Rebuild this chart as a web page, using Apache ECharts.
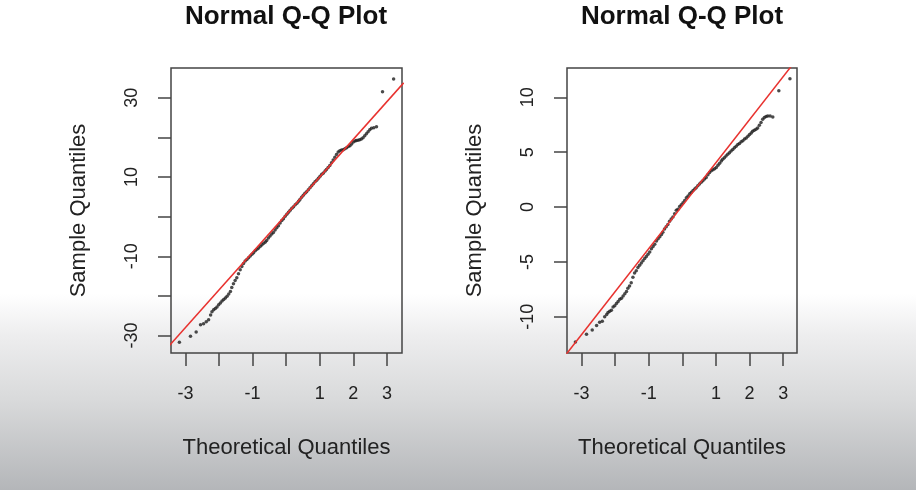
<!DOCTYPE html>
<html>
<head>
<meta charset="utf-8">
<script src="https://cdn.jsdelivr.net/npm/echarts@6/dist/echarts.min.js"></script>
<style>
  html, body { margin: 0; padding: 0; background: #fff; }
  #chart { width: 916px; height: 490px; }
</style>
</head>
<body>
<div id="chart"></div>
<script>
// theoretical quantiles (shared by both panels, same sample size)
var theoretical = [
  -3.18, -2.85, -2.68, -2.55, -2.46, -2.38, -2.31, -2.25, -2.21, -2.16,
  -2.11, -2.06, -2.01, -1.96, -1.91, -1.86, -1.81, -1.76, -1.71, -1.66,
  -1.62, -1.57, -1.52, -1.47, -1.42, -1.37, -1.32, -1.27, -1.22, -1.17,
  -1.12, -1.07, -1.02, -0.97, -0.92, -0.87, -0.82, -0.77, -0.72, -0.67,
  -0.62, -0.58, -0.53, -0.48, -0.43, -0.38, -0.33, -0.28, -0.23, -0.18,
  -0.13, -0.08, -0.03, 0.02, 0.07, 0.12, 0.17, 0.22, 0.27, 0.32,
  0.37, 0.41, 0.46, 0.51, 0.56, 0.61, 0.66, 0.71, 0.76, 0.81,
  0.86, 0.91, 0.96, 1.01, 1.06, 1.11, 1.16, 1.20, 1.25, 1.30,
  1.35, 1.40, 1.45, 1.50, 1.55, 1.60, 1.65, 1.70, 1.75, 1.80,
  1.85, 1.90, 1.95, 2.00, 2.05, 2.09, 2.14, 2.19, 2.24, 2.29,
  2.34, 2.39, 2.44, 2.49, 2.54, 2.61, 2.69, 2.87, 3.20
];

// sample quantiles, left panel
var sampleLeft = [
  -31.7, -30.2, -29.1, -27.3, -27.0, -26.5, -26.0, -24.8, -24.0, -23.5,
  -23.2, -22.8, -22.2, -21.8, -21.3, -20.9, -20.5, -20.1, -19.5, -18.9,
  -17.9, -16.9, -16.1, -15.4, -14.4, -13.4, -12.6, -11.8, -11.2, -10.8,
  -10.4, -9.9, -9.5, -9.1, -8.6, -8.2, -7.9, -7.5, -7.1, -6.7,
  -6.4, -6.0, -5.4, -4.9, -4.4, -4.0, -3.4, -2.8, -2.3, -1.6,
  -1.0, -0.5, 0.1, 0.6, 1.1, 1.6, 2.1, 2.5, 3.0, 3.4,
  3.9, 4.3, 4.9, 5.4, 5.9, 6.3, 6.8, 7.3, 7.8, 8.3,
  8.8, 9.2, 9.7, 10.2, 10.7, 11.0, 11.5, 11.9, 12.4, 12.9,
  13.6, 14.3, 15.0, 15.7, 16.3, 16.6, 16.8, 16.9, 17.1, 17.4,
  17.7, 17.9, 18.3, 18.8, 19.1, 19.2, 19.3, 19.4, 19.6, 19.9,
  20.4, 20.9, 21.4, 21.9, 22.3, 22.4, 22.7, 31.5, 34.7
];

// sample quantiles, right panel
var sampleRight = [
  -12.3, -11.6, -11.2, -10.8, -10.5, -10.4, -10.0, -9.8, -9.6, -9.5,
  -9.4, -9.1, -9.0, -8.8, -8.6, -8.4, -8.3, -8.1, -7.9, -7.7,
  -7.4, -7.2, -6.9, -6.4, -6.0, -5.8, -5.5, -5.3, -5.1, -4.9,
  -4.7, -4.5, -4.3, -4.1, -3.8, -3.6, -3.4, -3.1, -2.9, -2.7,
  -2.5, -2.3, -2.0, -1.8, -1.6, -1.3, -1.1, -0.9, -0.6, -0.3,
  -0.2, 0.05, 0.2, 0.4, 0.6, 0.85, 1.0, 1.2, 1.35, 1.5,
  1.65, 1.75, 1.95, 2.1, 2.25, 2.4, 2.55, 2.7, 2.95, 3.15,
  3.3, 3.4, 3.5, 3.6, 3.8, 4.0, 4.2, 4.35, 4.5, 4.65,
  4.8, 4.95, 5.1, 5.25, 5.4, 5.55, 5.7, 5.8, 5.95, 6.05,
  6.2, 6.3, 6.45, 6.6, 6.75, 6.9, 7.0, 7.1, 7.2, 7.45,
  7.7, 8.0, 8.15, 8.25, 8.3, 8.3, 8.2, 10.6, 11.7
];

// reference lines (two end points each)
var qqLineLeft = [[-3.5, -32.75], [3.5, 33.75]];
var qqLineRight = [[-3.5, -13.6], [3.5, 13.85]];

// tick positions and labels
var xTicks = [-3, -2, -1, 0, 1, 2, 3];
var xLabels = [-3, -1, 1, 2, 3];
var yTicksLeft = [-30, -20, -10, 0, 10, 20, 30];
var yLabelsLeft = [-30, -10, 10, 30];
var yTicksRight = [-10, -5, 0, 5, 10];

var chart = echarts.init(document.getElementById('chart'));

var fontFamily = '"Liberation Sans", Arial, Helvetica, sans-serif';
var ink = '#222';

function xAxisOpt(idx, min, max) {
    return {
        type: 'value',
        gridIndex: idx,
        min: min,
        max: max,
        name: 'Theoretical Quantiles',
        nameLocation: 'middle',
        nameGap: 84,
        nameTextStyle: { fontSize: 22, color: ink, fontFamily: fontFamily },
        splitLine: { show: false },
        axisLine: { show: false, onZero: false },
        axisTick: { show: true, length: 13, customValues: xTicks, lineStyle: { color: '#444', width: 1.5 } },
        axisLabel: { customValues: xLabels, fontSize: 18, color: ink, fontFamily: fontFamily, margin: 32 }
    };
}

function yAxisOpt(idx, min, max, ticks, labels) {
    return {
        type: 'value',
        gridIndex: idx,
        min: min,
        max: max,
        name: 'Sample Quantiles',
        nameLocation: 'middle',
        nameGap: 81,
        nameTextStyle: { fontSize: 22, color: ink, fontFamily: fontFamily },
        splitLine: { show: false },
        axisLine: { show: false, onZero: false },
        axisTick: { show: true, length: 13, customValues: ticks, lineStyle: { color: '#444', width: 1.5 } },
        axisLabel: { customValues: labels, rotate: 90, fontSize: 18, color: ink, fontFamily: fontFamily, margin: 30 }
    };
}

chart.setOption({
    backgroundColor: new echarts.graphic.LinearGradient(0, 0, 0, 1, [
        { offset: 0, color: '#ffffff' },
        { offset: 0.6, color: '#ffffff' },
        { offset: 0.68, color: '#eeeeef' },
        { offset: 0.82, color: '#d8d9da' },
        { offset: 1, color: '#b4b6b9' }
    ]),
    animation: false,
    graphic: [
        { type: 'text', x: 286, y: 17, style: { text: 'Normal Q-Q Plot', textAlign: 'center', textVerticalAlign: 'middle', fill: '#111', font: 'bold 26px ' + fontFamily } },
        { type: 'text', x: 682, y: 17, style: { text: 'Normal Q-Q Plot', textAlign: 'center', textVerticalAlign: 'middle', fill: '#111', font: 'bold 26px ' + fontFamily } }
    ],
    grid: [
        { left: 171, top: 68, width: 231, height: 285, show: true, borderColor: '#444', borderWidth: 1.5, backgroundColor: 'transparent' },
        { left: 567, top: 68, width: 230, height: 285, show: true, borderColor: '#444', borderWidth: 1.5, backgroundColor: 'transparent' }
    ],
    xAxis: [
        xAxisOpt(0, -3.43, 3.45),
        xAxisOpt(1, -3.43, 3.41)
    ],
    yAxis: [
        yAxisOpt(0, -34.4, 37.5, yTicksLeft, yLabelsLeft),
        yAxisOpt(1, -13.3, 12.67, yTicksRight, yTicksRight)
    ],
    series: [
        {
            type: 'line',
            xAxisIndex: 0, yAxisIndex: 0,
            data: qqLineLeft,
            showSymbol: false,
            lineStyle: { color: '#e8322f', width: 1.5 },
            silent: true
        },
        {
            type: 'scatter',
            xAxisIndex: 0, yAxisIndex: 0,
            data: theoretical.map(function (x, i) { return [x, sampleLeft[i]]; }),
            symbolSize: 3.5,
            itemStyle: { color: '#1e1e1e' }
        },
        {
            type: 'line',
            xAxisIndex: 1, yAxisIndex: 1,
            data: qqLineRight,
            showSymbol: false,
            lineStyle: { color: '#e8322f', width: 1.5 },
            silent: true
        },
        {
            type: 'scatter',
            xAxisIndex: 1, yAxisIndex: 1,
            data: theoretical.map(function (x, i) { return [x, sampleRight[i]]; }),
            symbolSize: 3.5,
            itemStyle: { color: '#1e1e1e' }
        }
    ]
});
</script>
</body>
</html>
